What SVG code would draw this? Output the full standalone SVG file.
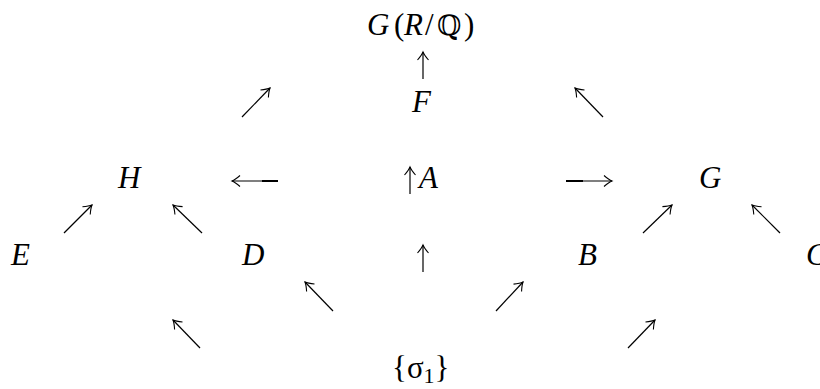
<svg xmlns="http://www.w3.org/2000/svg" width="820" height="389" viewBox="0 0 820 389">
<style>
.m{font-family:"Liberation Serif",serif;font-style:italic;font-size:31px;fill:#000}
.u{font-style:normal}
.a{stroke:#000;stroke-width:1.2;fill:none}
.b{stroke:#000;stroke-width:2;fill:none}
</style>
<defs>
<marker id="h" markerUnits="userSpaceOnUse" markerWidth="14" markerHeight="14" viewBox="-10 -7 14 14" refX="0" refY="0" orient="auto" overflow="visible">
<path d="M-8,-5.5 Q-3,-1.2 0,0 Q-3,1.2 -8,5.5" stroke="#000" stroke-width="1.1" fill="none"/>
</marker>
</defs>
<rect width="820" height="389" fill="#fff"/>
<g id="node-GRQ">
<text class="m" y="35"><tspan x="367">G</tspan><tspan class="u" x="394">(</tspan><tspan x="404">R</tspan><tspan class="u" x="425">/</tspan><tspan class="u" font-family="DejaVu Serif" font-size="28" x="437">ℚ</tspan><tspan class="u" x="464">)</tspan></text>
</g>
<g id="node-F"><text class="m" x="412" y="112">F</text></g>
<g id="node-H"><text class="m" x="118" y="188">H</text></g>
<g id="node-A"><text class="m" x="419" y="188">A</text></g>
<g id="node-G"><text class="m" x="699" y="188">G</text></g>
<g id="node-E"><text class="m" x="11" y="265">E</text></g>
<g id="node-D"><text class="m" x="242" y="265">D</text></g>
<g id="node-B"><text class="m" x="578" y="265">B</text></g>
<g id="node-C"><text class="m" x="806" y="265">C</text></g>
<g id="node-sigma"><text class="m u" font-size="33" x="392" y="378">{σ<tspan font-size="22" dy="5">1</tspan><tspan dy="-5">}</tspan></text></g>
<g id="connectors">
<line class="a" x1="423" y1="79" x2="423" y2="52" marker-end="url(#h)"/>
<line class="a" x1="242" y1="117" x2="270" y2="88" marker-end="url(#h)"/>
<line class="a" x1="603" y1="117" x2="575" y2="88" marker-end="url(#h)"/>
<line class="a" x1="278" y1="181" x2="232" y2="181" marker-end="url(#h)"/>
<line class="b" x1="278" y1="181" x2="262" y2="181"/>
<line class="a" x1="566" y1="181" x2="612" y2="181" marker-end="url(#h)"/>
<line class="b" x1="566" y1="181" x2="583" y2="181"/>
<line class="a" x1="410" y1="194" x2="410" y2="167" marker-end="url(#h)"/>
<line class="a" x1="64" y1="233" x2="92" y2="205" marker-end="url(#h)"/>
<line class="a" x1="202" y1="233" x2="173" y2="205" marker-end="url(#h)"/>
<line class="a" x1="643" y1="233" x2="672" y2="205" marker-end="url(#h)"/>
<line class="a" x1="780" y1="233" x2="752" y2="205" marker-end="url(#h)"/>
<line class="a" x1="423" y1="272" x2="423" y2="245" marker-end="url(#h)"/>
<line class="a" x1="333" y1="311" x2="305" y2="282" marker-end="url(#h)"/>
<line class="a" x1="496" y1="311" x2="523" y2="282" marker-end="url(#h)"/>
<line class="a" x1="200" y1="348" x2="173" y2="320" marker-end="url(#h)"/>
<line class="a" x1="628" y1="348" x2="655" y2="320" marker-end="url(#h)"/>
</g>
</svg>
